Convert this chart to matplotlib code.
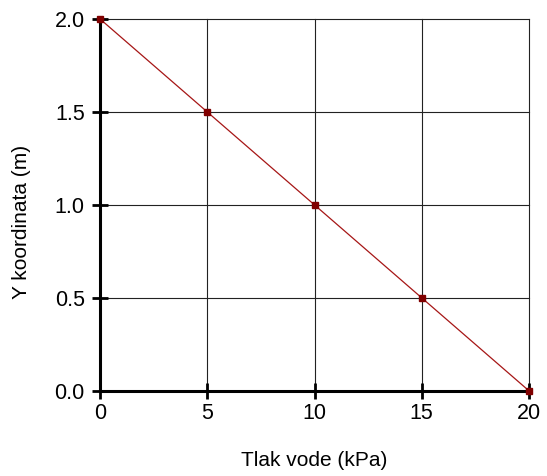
import matplotlib.pyplot as plt

# data
tlak = [0, 5, 10, 15, 20]
y_koord = [2.0, 1.5, 1.0, 0.5, 0.0]
x_ticks = [0, 5, 10, 15, 20]
y_ticks = [0.0, 0.5, 1.0, 1.5, 2.0]

plt.rcParams['font.family'] = ['Liberation Sans', 'DejaVu Sans']

fig = plt.figure(figsize=(5.47, 4.76), dpi=100)
ax = fig.add_axes([0.183, 0.179, 0.784, 0.781])

ax.plot(tlak, y_koord, color='#a61616', linewidth=0.9, zorder=3)
ax.plot(tlak, y_koord, linestyle='none', marker='s', markersize=5,
        color='#800000', zorder=4, clip_on=False)

ax.set_xlim(0, 20)
ax.set_ylim(0, 2.0)
ax.set_xticks(x_ticks)
ax.set_yticks(y_ticks)
ax.set_xticklabels([str(v) for v in x_ticks])
ax.set_yticklabels(['%.1f' % v for v in y_ticks])
ax.grid(True, color='#222222', linewidth=0.8)
for gl in ax.get_xgridlines() + ax.get_ygridlines():
    gl.set_clip_on(False)

for s in ['top', 'right']:
    ax.spines[s].set_visible(False)
for s in ['left', 'bottom']:
    ax.spines[s].set_linewidth(2.2)

ax.tick_params(direction='inout', length=12, width=2, labelsize=15.5, pad=3)
ax.tick_params(axis='y', pad=5)
ax.set_xlabel('Tlak vode (kPa)', fontsize=15, labelpad=19)
ax.set_ylabel('Y koordinata (m)', fontsize=15)
ax.yaxis.set_label_coords(-0.16, 0.455)

fig.savefig('out.png', dpi=100)
